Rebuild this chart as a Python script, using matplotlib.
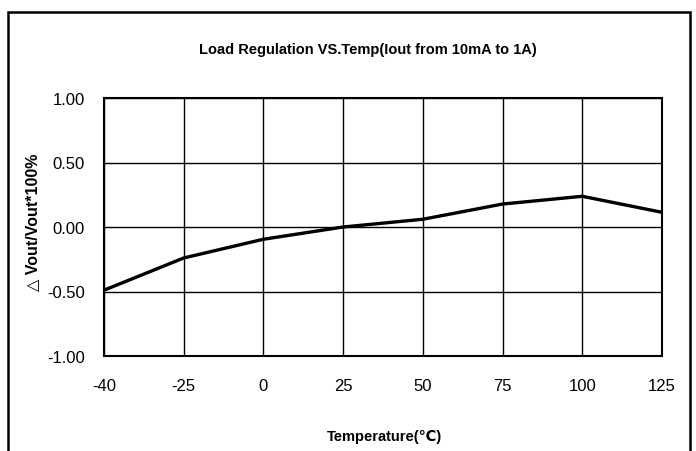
import matplotlib
matplotlib.use("Agg")
import matplotlib.pyplot as plt
from matplotlib.patches import Rectangle

# Chart data
temps = ["-40", "-25", "0", "25", "50", "75", "100", "125"]
load_reg = [-0.49, -0.24, -0.095, 0.0, 0.06, 0.178, 0.238, 0.114]
y_ticks = [-1.0, -0.5, 0.0, 0.5, 1.0]

W, H = 696, 452
plt.rcParams['font.family'] = ['Liberation Sans', 'DejaVu Sans']

fig = plt.figure(figsize=(W / 100, H / 100), dpi=100)
fig.patch.set_facecolor('white')

# outer frame (bottom edge runs past the picture)
fig.patches.append(Rectangle((7.5 / W, -0.05), (690 - 7.5) / W, 1.05 - 12.5 / H,
                             transform=fig.transFigure, fill=False,
                             edgecolor='black', lw=1.8))

ax = fig.add_axes([104 / W, 1 - 357 / H, (662 - 104) / W, (357 - 99) / H])
x = list(range(len(temps)))
ax.plot(x, load_reg, color='black', lw=2.4, solid_joinstyle='miter', zorder=3)

ax.set_xlim(0, len(temps) - 1)
ax.set_ylim(-1.0, 1.0)
ax.set_xticks(x)
ax.set_xticklabels(temps)
ax.set_yticks(y_ticks)
ax.set_yticklabels([f"{v:.2f}" for v in y_ticks])
ax.grid(True, color='black', lw=1.0)
ax.tick_params(axis='both', length=0, labelsize=12, colors='black')
ax.tick_params(axis='x', pad=16)
ax.tick_params(axis='y', pad=14)
for s in ax.spines.values():
    s.set_linewidth(1.5)
    s.set_color('black')

fig.text(368 / W, 1 - 50 / H, "Load Regulation VS.Temp(Iout from 10mA to 1A)",
         ha='center', va='center', fontsize=10.5, fontweight='bold')
fig.text(385 / W, 1 - 437 / H, "Temperature(℃)", ha='center', va='center',
         fontsize=10.5, fontweight='bold')
fig.text(33 / W, 1 - 222 / H, "△ Vout/Vout*100%", ha='center', va='center',
         rotation=90, fontsize=11.5, fontweight='bold')

fig.savefig("out.png", dpi=100)
